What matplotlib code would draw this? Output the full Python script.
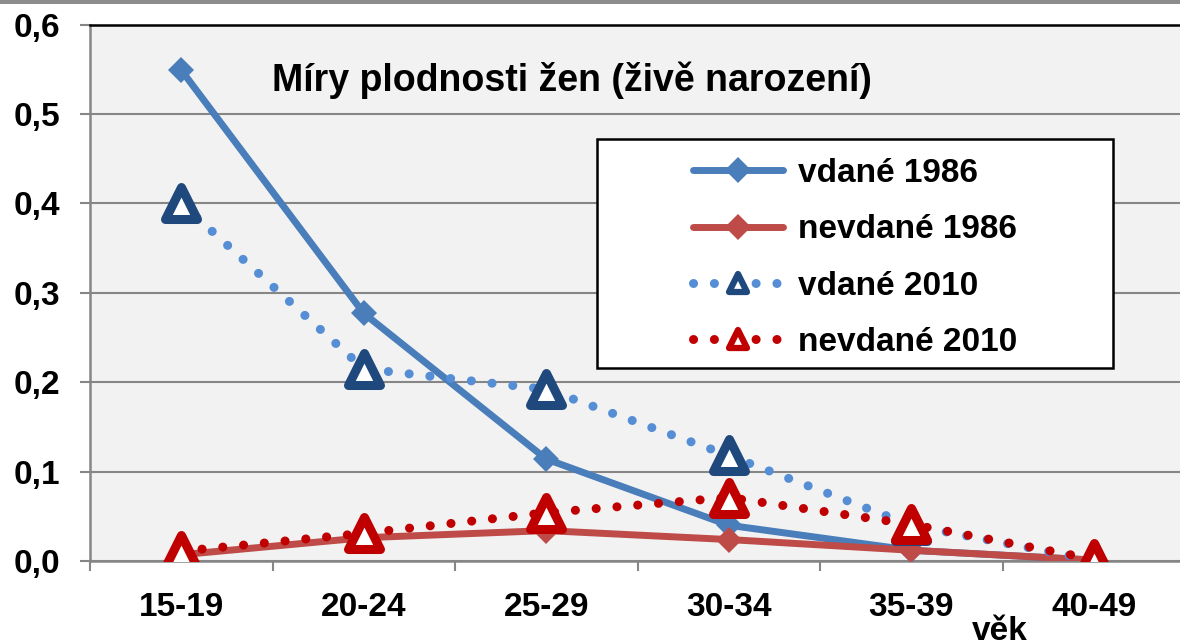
import matplotlib.pyplot as plt
from matplotlib.markers import MarkerStyle
from matplotlib.patches import Rectangle
from matplotlib.ticker import FixedLocator

plt.rcParams['font.family'] = ['Liberation Sans', 'DejaVu Sans']
plt.rcParams['font.weight'] = 'bold'

# data
vek = ['15-19', '20-24', '25-29', '30-34', '35-39', '40-49']
vdane_1986 = [0.549, 0.277, 0.114, 0.040, 0.012, 0.001]
nevdane_1986 = [0.007, 0.026, 0.034, 0.024, 0.012, 0.001]
vdane_2010 = [0.400, 0.215, 0.192, 0.118, 0.040, 0.001]
nevdane_2010 = [0.011, 0.031, 0.054, 0.071, 0.041, 0.002]
y_ticks = [0.0, 0.1, 0.2, 0.3, 0.4, 0.5, 0.6]

W, H = 1180, 641
fig = plt.figure(figsize=(W / 100, H / 100), dpi=100)
fig.patch.set_facecolor('white')

# thin grey band at the very top
fig.add_artist(Rectangle((0, 1 - 4 / H), 1, 4 / H, transform=fig.transFigure,
                         facecolor='#8c8c8c', edgecolor='none'))

left, right = 90, 1185
top, bottom = 24.5, 561
ax = fig.add_axes([left / W, 1 - bottom / H, (right - left) / W, (bottom - top) / H])
ax.set_facecolor('#f2f2f2')

x = range(len(vek))
tri = MarkerStyle('^', joinstyle='round')
dots = (0, (0.01, 2.3))

ax.plot(x, vdane_1986, color='#4a7ebb', lw=5, marker='D', ms=13.5, mew=0,
        solid_capstyle='round', label='vdané 1986', zorder=3)
ax.plot(x, nevdane_1986, color='#be4b48', lw=5, marker='D', ms=13.5, mew=0,
        solid_capstyle='round', label='nevdané 1986', zorder=4)
ax.plot(x, vdane_2010, color='#558ed5', lw=6.5, linestyle=dots,
        dash_capstyle='round', marker=tri, ms=23, mew=6.5, mfc='white',
        mec='#1f497d', label='vdané 2010', zorder=5)
ax.plot(x, nevdane_2010, color='#c00000', lw=6.5, linestyle=dots,
        dash_capstyle='round', marker=tri, ms=23, mew=6.5, mfc='white',
        mec='#c00000', label='nevdané 2010', zorder=6)

ax.set_xlim(-0.5, len(vek) - 0.5)
ax.set_ylim(0, 0.6)
ax.set_yticks(y_ticks)
ax.set_yticklabels([f'{v:.1f}'.replace('.', ',') for v in y_ticks], fontsize=24,
                   fontweight='bold')
ax.set_xticks(list(x))
ax.set_xticklabels(vek, fontsize=24, fontweight='bold')
ax.xaxis.set_minor_locator(FixedLocator([i - 0.5 for i in range(len(vek) + 1)]))
ax.tick_params(axis='x', which='major', length=0, pad=22)
ax.tick_params(axis='x', which='minor', length=7.5, width=1.5, color='#868686')
ax.tick_params(axis='y', length=7.5, width=1.5, color='#868686', pad=14)

ax.grid(axis='y', color='#868686', lw=1.5, zorder=0)
ax.set_axisbelow(True)
for s in ['left', 'bottom']:
    ax.spines[s].set_color('#868686')
    ax.spines[s].set_linewidth(1.8)
ax.spines['top'].set_color('black')
ax.spines['top'].set_linewidth(1.8)
ax.spines['right'].set_visible(False)

ax.text(272 / W, 1 - 80 / H, 'Míry plodnosti žen (živě narození)', transform=fig.transFigure,
        fontsize=27, fontweight='bold', ha='left', va='center')

# legend box
ax.add_patch(Rectangle((597 / W, 1 - 368 / H), (1113 - 597) / W, (368 - 139) / H,
                       transform=fig.transFigure, facecolor='white',
                       edgecolor='black', lw=1.8, zorder=10))
leg = ax.legend(loc='center', bbox_to_anchor=(855 / W, 1 - 258 / H),
                bbox_transform=fig.transFigure, frameon=False,
                handlelength=2.7, handletextpad=0.45, labelspacing=0.76,
                prop={'weight': 'bold', 'size': 24})
leg.set_zorder(11)
for h in leg.legend_handles[2:]:
    h.set_markersize(13)
    h.set_markeredgewidth(4.5)

fig.text(1000 / W, 1 - 640 / H, 'věk', fontsize=24, fontweight='bold',
         ha='center', va='baseline')

fig.savefig('out.png', dpi=100)
